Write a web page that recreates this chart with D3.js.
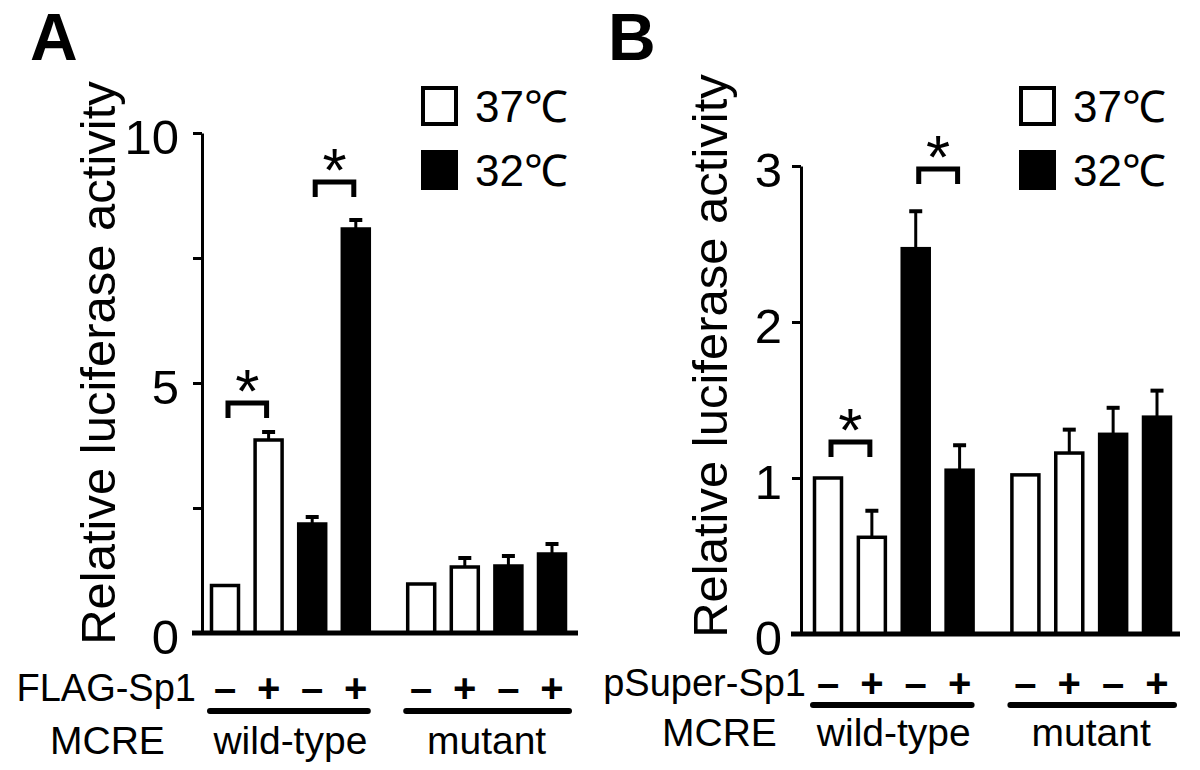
<!DOCTYPE html>
<html lang="en">
<head>
<meta charset="UTF-8"/>
<title>Relative luciferase activity</title>
<script src="https://d3js.org/d3.v7.min.js"></script>
<style>
  body { margin: 0; background: #fff; }
  text { font-family: "Liberation Sans", Arial, sans-serif; fill: #000; }
</style>
</head>
<body>
<script>
    // Data (bar order: -, +, -, + for wild-type then mutant)
    var temps = ["37℃", "37℃", "32℃", "32℃", "37℃", "37℃", "32℃", "32℃"];
    var signs = ["–", "+", "–", "+", "–", "+", "–", "+"];
    var groups = ["wild-type", "mutant"];

    var valuesA = [0.95, 3.86, 2.18, 8.08, 0.98, 1.32, 1.34, 1.58];
    var errorsA = [0, 0.16, 0.14, 0.18, 0, 0.18, 0.2, 0.2];
    var ticksA = [0, 2.5, 5, 7.5, 10];
    var labelsA = ["0", "", "5", "", "10"];

    var valuesB = [1.0, 0.62, 2.47, 1.05, 1.02, 1.16, 1.28, 1.39];
    var errorsB = [0, 0.17, 0.24, 0.16, 0, 0.15, 0.17, 0.17];
    var ticksB = [0, 1, 2, 3];
    var labelsB = ["0", "1", "2", "3"];

    // significance brackets: [left bar, right bar, height in data units]
    var sigA = [[0, 1, 4.6], [2, 3, 9.02]];
    var sigB = [[0, 1, 1.23], [2, 3, 2.98]];

    // bar slots, with a wider gap between the two constructs
    var slots = [0, 1, 2, 3, 4.5, 5.5, 6.5, 7.5];

    var w = 1200, h = 770;
    var svg = d3.select("body").append("svg")
        .attr("width", w)
        .attr("height", h);

    function drawPanel(p) {
        var g = svg.append("g");

        var yScale = d3.scaleLinear()
            .domain([0, p.yMax])
            .range([p.y0, p.yTop]);

        var xScale = d3.scaleLinear()
            .domain([0, 7.5])
            .range(p.xRange);

        // panel letter
        g.append("text")
            .attr("x", p.letterX)
            .attr("y", 60)
            .attr("font-size", "66px")
            .attr("font-weight", "bold")
            .text(p.letter);

        // y axis
        var yAxis = d3.axisLeft(yScale)
            .tickValues(p.ticks)
            .tickFormat(function(d, i) { return p.tickLabels[i]; })
            .tickSize(9)
            .tickSizeOuter(0)
            .tickPadding(p.tickPad);

        var ax = g.append("g")
            .attr("transform", "translate(" + p.axisX + ",0)")
            .call(yAxis);
        ax.select(".domain").attr("stroke-width", 3);
        ax.selectAll(".tick line").attr("stroke-width", 3);
        ax.selectAll(".tick text")
            .attr("font-size", "49px")
            .attr("font-family", "Liberation Sans, Arial, sans-serif")
            .attr("dy", "0.42em");

        // y label
        g.append("text")
            .attr("transform", "translate(" + p.labelX + "," + p.labelY + ") rotate(-90)")
            .attr("text-anchor", "middle")
            .attr("font-size", "49px")
            .text("Relative luciferase activity");

        // bars
        var bars = d3.range(8).map(function(i) {
            return { pos: slots[i], v: p.values[i], e: p.errors[i], t: temps[i] };
        });

        g.selectAll("rect.bar")
            .data(bars)
            .enter()
            .append("rect")
            .attr("class", "bar")
            .attr("x", function(d) { return xScale(d.pos) - 13.5; })
            .attr("width", 27)
            .attr("y", function(d) { return yScale(d.v); })
            .attr("height", function(d) { return p.y0 - yScale(d.v); })
            .attr("fill", function(d) { return d.t == "37℃" ? "#fff" : "#000"; })
            .attr("stroke", "#000")
            .attr("stroke-width", 3.5);

        // error bars (upper only)
        var eb = bars.filter(function(d) { return d.e > 0; });
        g.selectAll("line.err")
            .data(eb)
            .enter()
            .append("line")
            .attr("x1", function(d) { return xScale(d.pos); })
            .attr("x2", function(d) { return xScale(d.pos); })
            .attr("y1", function(d) { return yScale(d.v); })
            .attr("y2", function(d) { return yScale(d.v + d.e); })
            .attr("stroke", "#000")
            .attr("stroke-width", 3);
        g.selectAll("line.cap")
            .data(eb)
            .enter()
            .append("line")
            .attr("x1", function(d) { return xScale(d.pos) - 6.5; })
            .attr("x2", function(d) { return xScale(d.pos) + 6.5; })
            .attr("y1", function(d) { return yScale(d.v + d.e); })
            .attr("y2", function(d) { return yScale(d.v + d.e); })
            .attr("stroke", "#000")
            .attr("stroke-width", 4);

        // baseline
        g.append("line")
            .attr("x1", p.axisX - 10)
            .attr("x2", p.baseEnd)
            .attr("y1", p.y0)
            .attr("y2", p.y0)
            .attr("stroke", "#000")
            .attr("stroke-width", 5);

        // significance brackets
        p.sig.forEach(function(s) {
            var x1 = xScale(slots[s[0]]) + 3;
            var x2 = xScale(slots[s[1]]) - 2;
            var yb = yScale(s[2]);
            g.append("path")
                .attr("d", "M" + x1 + "," + (yb + 15) + "V" + yb + "H" + x2 + "V" + (yb + 15))
                .attr("fill", "none")
                .attr("stroke", "#000")
                .attr("stroke-width", 5);
            g.append("text")
                .attr("x", (x1 + x2) / 2)
                .attr("y", yb + 9)
                .attr("text-anchor", "middle")
                .attr("font-size", "62px")
                .text("*");
        });

        // legend
        var leg = [["37℃", "#fff", 86], ["32℃", "#000", 150]];
        leg.forEach(function(l) {
            g.append("rect")
                .attr("x", p.legX + 2)
                .attr("y", l[2] + 2)
                .attr("width", 33)
                .attr("height", 36)
                .attr("fill", l[1])
                .attr("stroke", "#000")
                .attr("stroke-width", 4);
            g.append("text")
                .attr("x", p.legX + 54)
                .attr("y", l[2] + 36)
                .attr("font-size", "44px")
                .text(l[0]);
        });

        // treatment row
        g.append("text")
            .attr("x", p.rowLabelX)
            .attr("y", p.signY)
            .attr("dy", "0.35em")
            .attr("text-anchor", "end")
            .attr("font-size", "38px")
            .text(p.rowLabel);
        g.selectAll("text.sign")
            .data(bars)
            .enter()
            .append("text")
            .attr("x", function(d) { return xScale(d.pos); })
            .attr("y", p.signY)
            .attr("dy", "0.35em")
            .attr("text-anchor", "middle")
            .attr("font-size", "40px")
            .attr("font-weight", "bold")
            .text(function(d, i) { return signs[i]; });

        // construct row
        groups.forEach(function(name, k) {
            var a = xScale(slots[k * 4]), b = xScale(slots[k * 4 + 3]);
            g.append("line")
                .attr("x1", a - 15)
                .attr("x2", b + (k == 0 ? 12 : 17))
                .attr("y1", p.lineY)
                .attr("y2", p.lineY)
                .attr("stroke", "#000")
                .attr("stroke-width", 6)
                .attr("stroke-linecap", "round");
            g.append("text")
                .attr("x", (a + b) / 2)
                .attr("y", p.groupY)
                .attr("dy", "0.35em")
                .attr("text-anchor", "middle")
                .attr("font-size", "39px")
                .text(name);
        });
        g.append("text")
            .attr("x", p.mcreX)
            .attr("y", p.groupY)
            .attr("dy", "0.35em")
            .attr("font-size", "39px")
            .text("MCRE");
    }

    drawPanel({
        letter: "A", letterX: 30,
        values: valuesA, errors: errorsA, ticks: ticksA, tickLabels: labelsA,
        yMax: 10, y0: 633, yTop: 133, axisX: 202, tickPad: 14,
        xRange: [225, 552], baseEnd: 578,
        labelX: 115, labelY: 363,
        sig: sigA, legX: 421,
        rowLabel: "FLAG-Sp1", rowLabelX: 196, signY: 688, lineY: 711, groupY: 740, mcreX: 50
    });

    drawPanel({
        letter: "B", letterX: 608,
        values: valuesB, errors: errorsB, ticks: ticksB, tickLabels: labelsB,
        yMax: 3, y0: 634, yTop: 166, axisX: 801, tickPad: 10,
        xRange: [828, 1157], baseEnd: 1180,
        labelX: 727, labelY: 356,
        sig: sigB, legX: 1019,
        rowLabel: "pSuper-Sp1", rowLabelX: 806, signY: 683, lineY: 705, groupY: 732, mcreX: 662
    });
</script>
</body>
</html>
